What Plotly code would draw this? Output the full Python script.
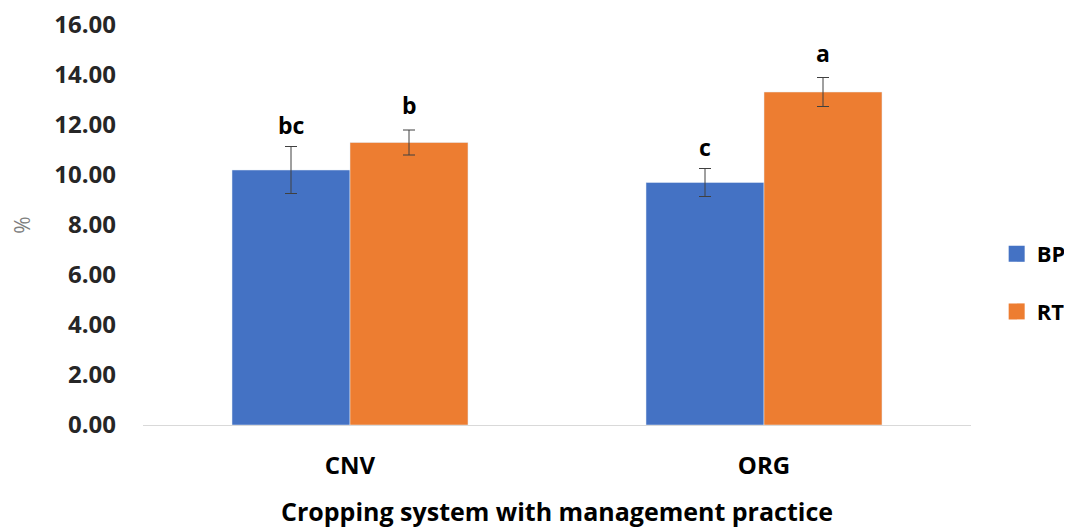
import plotly.graph_objects as go

categories = ["CNV", "ORG"]
bp_values = [10.20, 9.70]
bp_errors = [0.94, 0.56]
rt_values = [11.30, 13.32]
rt_errors = [0.50, 0.58]
bp_letters = ["bc", "c"]
rt_letters = ["b", "a"]
y_ticks = [0, 2, 4, 6, 8, 10, 12, 14, 16]

FONT = "Open Sans"
TXT = "#262626"
BLUE = "#4472C4"
ORANGE = "#ED7D31"

fig = go.Figure()
fig.add_trace(go.Bar(
    name="BP", x=categories, y=bp_values, marker_color=BLUE,
    error_y=dict(type="data", array=bp_errors, color="#404040", thickness=1, width=6),
    showlegend=False,
))
fig.add_trace(go.Bar(
    name="RT", x=categories, y=rt_values, marker_color=ORANGE,
    error_y=dict(type="data", array=rt_errors, color="#404040", thickness=1, width=6),
    showlegend=False,
))
# legend entries with larger square swatches
for name, col in [("BP", BLUE), ("RT", ORANGE)]:
    fig.add_trace(go.Scatter(
        name=f"<b>{name}</b>", x=[None], y=[None], mode="markers",
        marker=dict(symbol="square", size=16, color=col),
        legendgroup=name, showlegend=True,
    ))

offsets = {"BP": -0.1425, "RT": 0.1425}
for i, cat in enumerate(categories):
    fig.add_annotation(x=i + offsets["BP"], y=bp_values[i] + bp_errors[i], xref="x", yref="y",
                       text=f"<b>{bp_letters[i]}</b>", showarrow=False, yanchor="bottom", yshift=4,
                       font=dict(family=FONT, size=23, color="#000000"))
    fig.add_annotation(x=i + offsets["RT"], y=rt_values[i] + rt_errors[i], xref="x", yref="y",
                       text=f"<b>{rt_letters[i]}</b>", showarrow=False, yanchor="bottom", yshift=7,
                       font=dict(family=FONT, size=23, color="#000000"))

fig.update_layout(
    width=1072, height=529,
    margin=dict(l=135, r=109, t=17, b=112, autoexpand=False),
    plot_bgcolor="white", paper_bgcolor="white",
    barmode="group", bargap=0.43, bargroupgap=0,
    font=dict(family=FONT, color=TXT),
    legend=dict(x=1.031, y=0.355, xanchor="left", yanchor="middle",
                font=dict(family=FONT, size=22, color="#000000"),
                tracegroupgap=26, itemclick=False),
    xaxis=dict(
        automargin=False,
        showline=True, linecolor="#D9D9D9", linewidth=1,
        tickfont=dict(family=FONT, size=24, color="#000000"),
        tickprefix="<b>", ticksuffix="</b>",
        ticks="", ticklabelstandoff=19,
        title=dict(text="<b>Cropping system with management practice</b>",
                   font=dict(family=FONT, size=25, color="#000000"), standoff=23),
    ),
    yaxis=dict(
        automargin=False, ticklabeloverflow="allow",
        range=[0, 16], tickvals=y_ticks,
        ticktext=[f"<b>{v:.2f}</b>" for v in y_ticks],
        showgrid=False, zeroline=False, showline=False,
        tickfont=dict(family=FONT, size=24, color=TXT),
        ticks="", ticklabelstandoff=26,
        title=dict(text="%", font=dict(family=FONT, size=21, color="#7F7F7F"), standoff=22),
    ),
)

fig.write_html("out.html")
